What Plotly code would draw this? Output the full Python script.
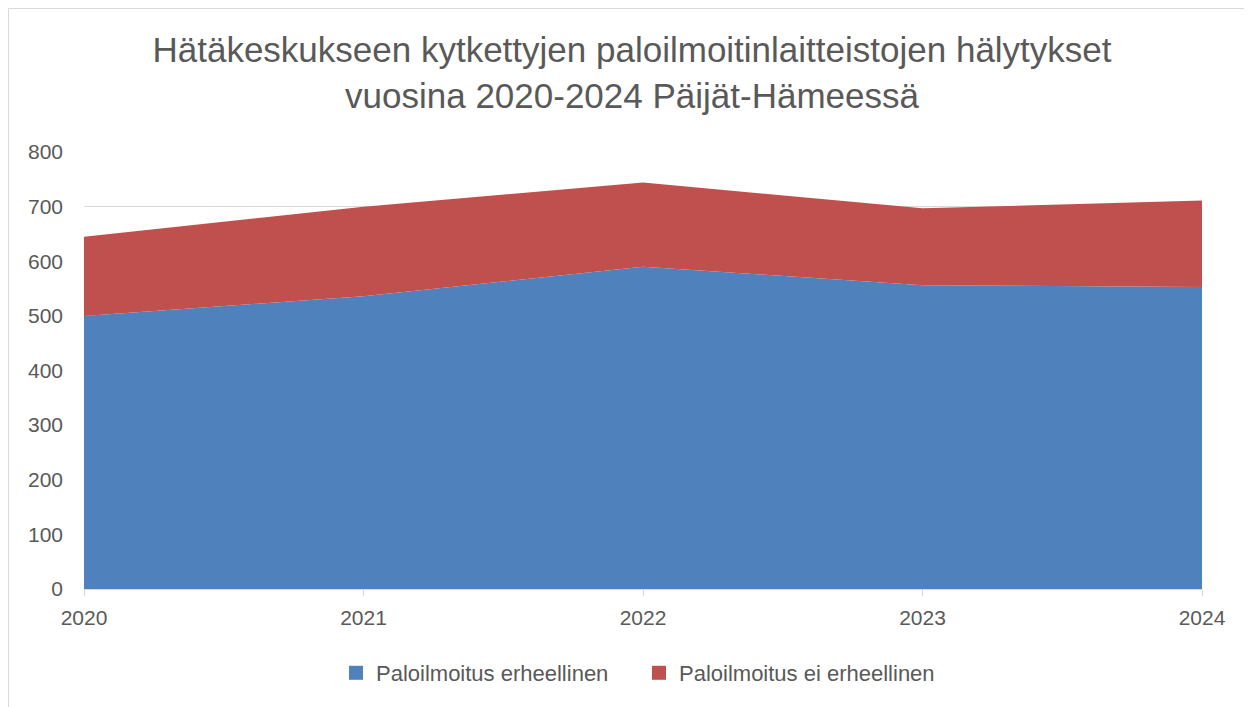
import plotly.graph_objects as go

years = ["2020", "2021", "2022", "2023", "2024"]
erheellinen = [500, 536, 590, 556, 553]
ei_erheellinen = [145, 164, 154, 141, 158]
y_ticks = [0, 100, 200, 300, 400, 500, 600, 700, 800]
series_names = ["Paloilmoitus erheellinen", "Paloilmoitus ei erheellinen"]
colors = ["#4f81bd", "#c0504d"]

FONT = "Liberation Sans, Arial, sans-serif"
GRAY = "#595959"

W, H = 1244, 699
L, R, T, B = 76, 50, 144, 118
PW, PH = W - L - R, H - T - B

fig = go.Figure()
for vals, name, col in zip([erheellinen, ei_erheellinen], series_names, colors):
    fig.add_trace(go.Scatter(
        x=years, y=vals, name=name, mode="lines", stackgroup="one",
        line=dict(width=0, color=col), fillcolor=col, showlegend=False,
        hoverinfo="x+y+name"))
for name, col in zip(series_names, colors):
    fig.add_trace(go.Scatter(
        x=[None], y=[None], name=name, mode="markers",
        marker=dict(symbol="square", size=14, color=col), showlegend=True))

fig.update_layout(
    width=W, height=H,
    margin=dict(l=L, r=R, t=T, b=B),
    paper_bgcolor="white", plot_bgcolor="white",
    font=dict(family=FONT, color=GRAY, size=21),
    title=dict(
        text="Hätäkeskukseen kytkettyjen paloilmoitinlaitteistojen hälytykset<br>vuosina 2020-2024 Päijät-Hämeessä",
        x=(624 - L) / PW, xref="paper", xanchor="center",
        y=1 - 54 / H, yanchor="middle",
        font=dict(family=FONT, size=35, color=GRAY)),
    xaxis=dict(
        type="category", range=[0, 4], showgrid=False,
        showline=True, linecolor="#d9d9d9", linewidth=1,
        ticks="outside", ticklen=6, tickcolor="#d9d9d9",
        ticklabelstandoff=4,
        tickfont=dict(size=21, color=GRAY)),
    yaxis=dict(
        range=[0, 800], tickvals=y_ticks, showgrid=True,
        gridcolor="#d9d9d9", gridwidth=1, zeroline=False, showline=False,
        ticklabelstandoff=20, tickfont=dict(size=21, color=GRAY)),
    legend=dict(
        orientation="h", x=(631 - L) / PW, xanchor="center",
        y=(H - B - 665) / PH, yanchor="middle",
        font=dict(size=22, color=GRAY), itemwidth=30,
        entrywidth=258, entrywidthmode="pixels", traceorder="normal"),
    showlegend=True,
)

fig.add_shape(type="rect", xref="paper", yref="paper",
              x0=(0.5 - L) / PW, x1=(W + 20 - L) / PW,
              y0=-(B + 20) / PH, y1=(H - B - 0.5) / PH,
              line=dict(color="#d9d9d9", width=1), fillcolor="rgba(0,0,0,0)",
              layer="below")

fig.write_html("out.html")
